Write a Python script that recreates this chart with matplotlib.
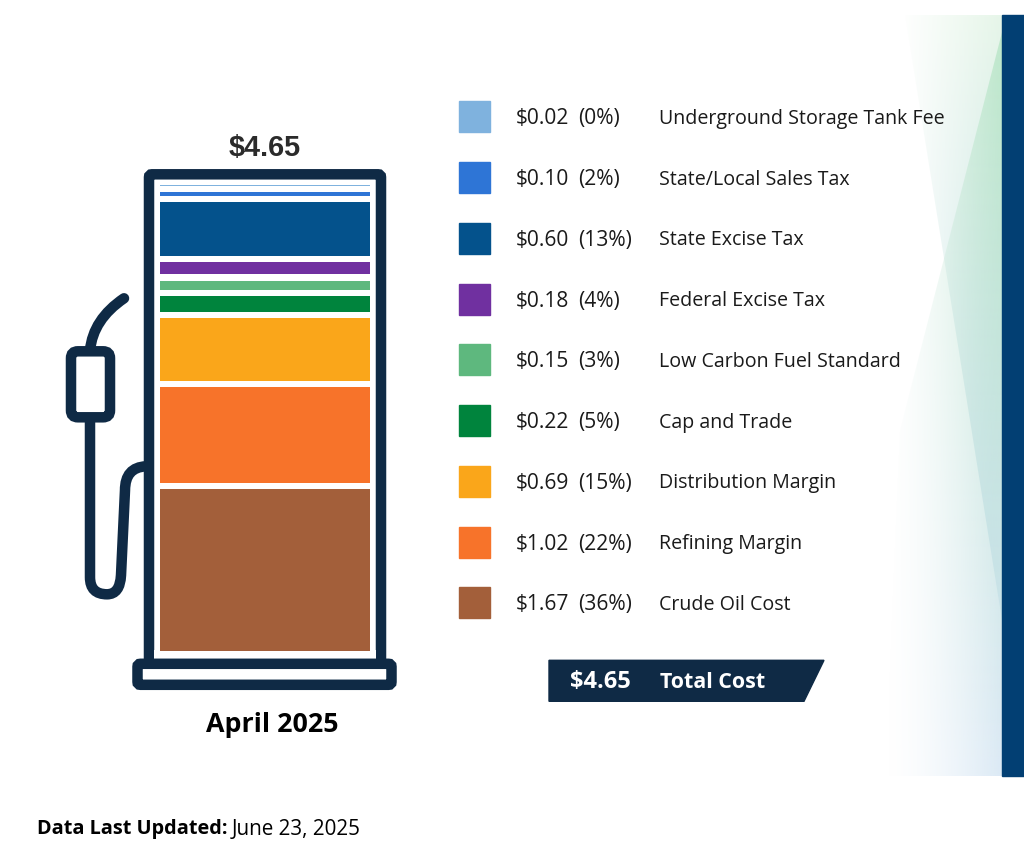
import numpy as np
import matplotlib
matplotlib.use("Agg")
import matplotlib.pyplot as plt
from matplotlib.patches import FancyBboxPatch, PathPatch, Polygon, Rectangle
from matplotlib.path import Path

# Data, top of the legend first
components = ["Underground Storage Tank Fee", "State/Local Sales Tax", "State Excise Tax",
              "Federal Excise Tax", "Low Carbon Fuel Standard", "Cap and Trade",
              "Distribution Margin", "Refining Margin", "Crude Oil Cost"]
costs = [0.02, 0.10, 0.60, 0.18, 0.15, 0.22, 0.69, 1.02, 1.67]
shares = [0, 2, 13, 4, 3, 5, 15, 22, 36]
colors = ["#7fb2de", "#2e75d6", "#04528c", "#7030a0", "#5eb87e",
          "#00843d", "#faa61a", "#f7732a", "#a35f3a"]
total_cost = 4.65
month = "April 2025"
updated = "June 23, 2025"

W, H = 1024, 854
NAVY = "#0f2a45"
LW = 10.5 * 72 / 100  # 10.5 px stroke
SHIFT = 1.3  # page content sits a little low

plt.rcParams["font.family"] = ["Open Sans", "DejaVu Sans"]

fig = plt.figure(figsize=(W / 100, H / 100), dpi=100, facecolor="white")

# Page axes in pixel coordinates, for everything around the bar
ax = fig.add_axes([0, 0, 1, 1])


def gradient(poly, left, right, top, bottom, top_col, bottom_col, max_alpha, power):
    # horizontal fade in alpha, vertical change in colour, clipped to a polygon
    ny, nx = 200, 100
    img = np.zeros((ny, nx, 4))
    c0 = np.array(matplotlib.colors.to_rgb(top_col))
    c1 = np.array(matplotlib.colors.to_rgb(bottom_col))
    ty = np.linspace(0, 1, ny)[:, None, None]
    img[:, :, :3] = c0 * (1 - ty) + c1 * ty
    img[:, :, 3] = np.linspace(0, 1, nx) ** power * max_alpha
    im = ax.imshow(img, extent=[left, right, bottom, top], aspect="auto", zorder=1)
    clip = Polygon(poly, closed=True, transform=ax.transData, fill=False, edgecolor="none")
    ax.add_patch(clip)
    im.set_clip_path(clip)


gradient([(905, 15), (1002, 15), (1002, 620)], 900, 1002, 15, 620, "#dcf2e0", "#8fc4d8", 0.7, 1.0)
gradient([(1002, 32), (900, 430), (885, 776), (1002, 776)], 885, 1002, 15, 776, "#b8e6c6", "#d6e6f4", 0.85, 1.5)
ax.add_patch(Rectangle((1002, 15), 22, 761, color="#023f73", zorder=2))

# Pump body
ax.add_patch(FancyBboxPatch((149, 174), 232, 490, boxstyle="round,pad=0,rounding_size=3",
                            fc="none", ec=NAVY, lw=LW, zorder=3))
ax.add_patch(Rectangle((154, 650), 222, 19, fc="white", ec="none", zorder=3))
ax.add_patch(FancyBboxPatch((137.5, 663.5), 254, 21, boxstyle="round,pad=0,rounding_size=3",
                            fc="white", ec=NAVY, lw=LW, zorder=4))

# Nozzle and hose
ax.add_patch(FancyBboxPatch((71, 351), 39, 66, boxstyle="round,pad=0,rounding_size=7",
                            fc="none", ec=NAVY, lw=LW, zorder=3))
spout = Path([(90, 350), (93, 319), (124, 298)], [Path.MOVETO, Path.CURVE3, Path.CURVE3])
ax.add_patch(PathPatch(spout, fc="none", ec=NAVY, lw=LW, capstyle="round", zorder=3))
hose = Path([(90, 420), (90, 577), (90, 594), (107, 594), (120, 594), (121, 575),
             (125, 490), (125, 467), (146, 466)],
            [Path.MOVETO, Path.LINETO, Path.CURVE3, Path.CURVE3, Path.CURVE3, Path.CURVE3,
             Path.LINETO, Path.CURVE3, Path.CURVE3])
ax.add_patch(PathPatch(hose, fc="none", ec=NAVY, lw=LW, zorder=3))

ax.text(265, 147, f"${total_cost:.2f}", ha="center", va="center", fontsize=20.8, fontweight="bold",
        family="Liberation Sans", color="#2b2b2b", zorder=5)
ax.text(272.5, 724, month, ha="center", va="center", fontsize=19.3, fontweight="bold", color="black", zorder=5)

# Legend rows
row_tops = np.linspace(101, 587, len(components))
for top, name, cost, share, col in zip(row_tops, components, costs, shares, colors):
    ax.add_patch(Rectangle((459, top), 31, 31, color=col, zorder=3))
    yc = top + 16.5
    ax.text(516, yc, f"${cost:.2f}", va="center", fontsize=15.1, color="#1a1a1a", zorder=5)
    ax.text(578, yc, f"({share}%)", va="center", fontsize=15.1, color="#1a1a1a", zorder=5)
    ax.text(659, yc, name, va="center", fontsize=14.1, color="#1a1a1a", zorder=5)

# Total banner
ax.add_patch(Polygon([(549, 660), (824, 660), (804, 701), (549, 701)], closed=True, color=NAVY, zorder=3))
ax.text(570, 681, f"${total_cost:.2f}", va="center", fontsize=17, fontweight="bold", color="white", zorder=5)
ax.text(660, 681, "Total Cost", va="center", fontsize=15.4, fontweight="bold", color="white", zorder=5)

# Footer
ax.text(37, 828, "Data Last Updated:", va="center", fontsize=14.3, fontweight="bold", color="black", zorder=5)
ax.text(232, 828, updated, va="center", fontsize=14.85, color="black", zorder=5)

ax.set_xlim(0, W)
ax.set_ylim(H - SHIFT, -SHIFT)
ax.axis("off")

# Stacked bar inside the pump, about 100 px per dollar
px_per_dollar = 100.4
bar_ax = fig.add_axes([160 / W, (H - 655) / H, 210 / W, 480 / H], facecolor="none")
gap = 0.06
base = 0.0
for cost, col in zip(costs[::-1], colors[::-1]):
    bar_ax.bar(0, max(cost - gap, 0.015), bottom=base + gap / 2, width=1, color=col)
    base += cost
bar_ax.set_xlim(-0.5, 0.5)
bar_ax.set_ylim(0, 480 / px_per_dollar)
bar_ax.axis("off")

fig.savefig("out.png", dpi=100)
